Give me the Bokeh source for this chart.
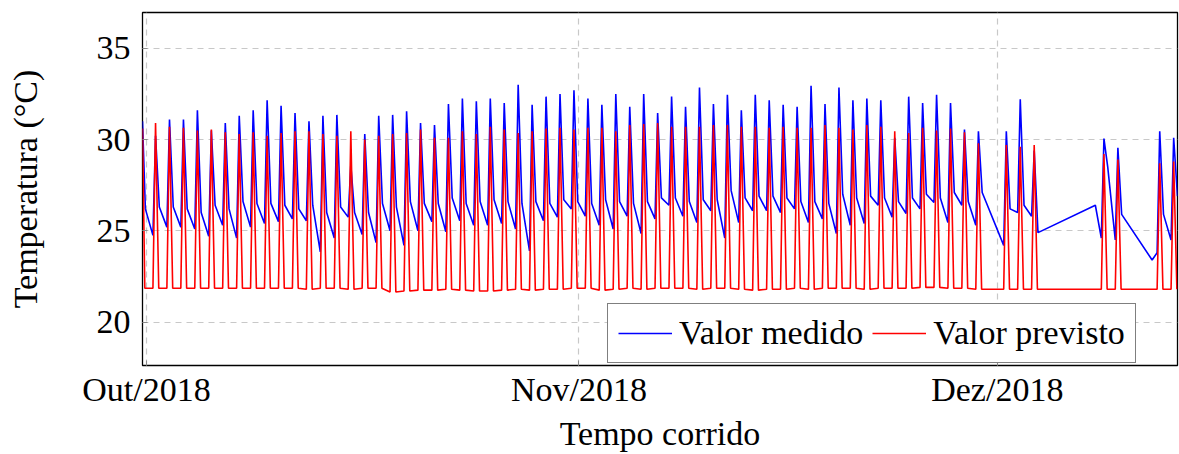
from bokeh.plotting import figure
from bokeh.models import Range1d, FixedTicker, Legend, LegendItem
from bokeh.embed import file_html
from bokeh.resources import INLINE

# ---- data (days counted from 1 Oct 2018, 00:00) ----
days = list(range(-1, 74))
# blue (measured): morning minimum, afternoon peak, late-evening value
blue_min = [None, 24.75, 25.2, 25.2, 25.1, 24.7, 25.3, 24.6, 25.2, 25.4, 25.5,
            25.65, 25.55, 23.85, 24.6, 25.75, 24.8, 24.35, 25.0, 24.2, 25.0,
            25.5, 24.95, 25.55, 25.3, 25.3, 25.4, 25.1, 23.9, 25.55, 25.75,
            26.2, 25.8, 25.3, 25.1, 25.8, 24.85, 25.65, 26.4, 25.8, 25.45,
            26.1, 24.6, 25.45, 26.1, 26.1, 26.0, 26.2, 25.45, 25.65, 24.85,
            25.3, 25.4, 26.4, 25.75, 25.95, 26.2, 26.55, 25.45, 26.4, 25.3,
            None, 24.2, 26.0, 25.8, None, None, None, None, 24.6, 24.5,
            None, None, 23.8, 24.5]
blue_peak = [None, 30.2, 31.1, 31.1, 31.6, 30.5, 30.9, 31.3, 31.6, 32.15, 31.85,
             31.45, 31.0, 31.3, 31.35, 28.6, 30.3, 31.3, 31.35, 31.55, 30.9,
             30.8, 31.95, 32.25, 32.1, 32.25, 32.0, 33.0, 31.9, 32.35, 32.5,
             32.7, 32.25, 31.9, 32.5, 31.8, 32.5, 31.45, 32.35, 31.8, 32.85,
             31.95, 32.45, 31.6, 32.45, 32.15, 31.9, 31.8, 32.95, 31.95, 32.85,
             32.15, 32.25, 32.15, 30.1, 32.35, 32.0, 32.45, 32.0, 30.55, 30.45,
             None, 30.45, 32.2, 29.4, None, None, None, None, 30.05, 29.55,
             None, None, 30.45, 30.1]
blue_late = [26.2, 26.3, 26.3, 26.2, 26.0, 26.4, 26.2, 26.6, 26.5, 26.5, 26.4,
             26.2, 26.4, 26.0, 26.3, 26.0, 26.0, 26.5, 26.3, 26.6, 26.5,
             26.5, 26.8, 26.5, 26.6, 26.7, 26.6, 26.5, 26.6, 26.5, 26.7,
             26.6, 26.5, 26.7, 26.6, 26.5, 26.6, 26.8, 26.8, 26.6, 26.7,
             26.7, 27.2, 26.8, 26.9, 26.9, 26.8, 26.6, 26.6, 26.5, 27.0,
             26.8, 26.9, 26.8, 26.6, 26.8, 27.0, 26.8, 27.1, 26.6, 27.1,
             None, 26.2, 26.4, 24.9, None, None, None, None, 28.5, 25.9,
             None, None, 25.9, 26.9]
# extra measured blue points: first sample and edges of the December gaps
blue_extra_day = [-0.29, 68.03, 72.1]
blue_extra_val = [31.0, 26.4, 23.4]
# red (predicted): night level and afternoon peak
red_low = [21.85, 21.85, 21.85, 21.85, 21.85, 21.85, 21.85, 21.85, 21.85, 21.85, 21.85,
           21.85, 21.8, 21.85, 21.85, 21.8, 21.85, 21.85, 21.65, 21.7, 21.75,
           21.75, 21.8, 21.75, 21.7, 21.7, 21.75, 21.8, 21.75, 21.8, 21.8,
           21.85, 21.85, 21.75, 21.8, 21.85, 21.8, 21.85, 21.85, 21.85, 21.8,
           21.85, 21.85, 21.8, 21.75, 21.8, 21.8, 21.85, 21.8, 21.85, 21.85,
           21.85, 21.8, 21.85, 21.85, 21.85, 21.9, 21.9, 21.85, 21.85, 21.8,
           None, 21.8, 21.8, 21.8, None, None, None, None, 21.8, 21.8,
           None, None, 21.8, 21.8]
red_peak = [None, 30.9, 30.7, 30.65, 30.5, 30.55, 30.4, 30.3, 30.4, 30.2, 30.36,
            30.45, 30.45, 30.3, 30.2, 30.45, 30.0, 30.2, 30.3, 30.36, 30.55,
            30.1, 30.1, 30.45, 30.3, 30.7, 30.55, 30.36, 30.45, 30.6, 30.65,
            30.55, 30.65, 30.65, 30.45, 30.8, 30.85, 30.9, 30.7, 30.7, 30.7,
            30.8, 30.8, 30.7, 30.7, 30.65, 30.7, 30.65, 30.65, 30.8, 30.65,
            30.55, 30.8, 30.7, 30.45, 30.36, 30.65, 30.5, 30.6, 30.4, 29.8,
            None, 29.7, 29.6, 29.7, None, None, None, None, 29.2, 28.9,
            None, None, 28.7, 28.8]
red_extra_day = [-0.29]
red_extra_val = [30.6]
tick_days = [0, 31, 61]
tick_labels = ["Out/2018", "Nov/2018", "Dez/2018"]
y_ticks = [20, 25, 30, 35]

# hours of the day at which the daily values occur
H_MIN, H_PEAK, H_LATE = 11 / 24, 15.5 / 24, 22 / 24
R_UP, R_TOP, R_DOWN = 11 / 24, 15.5 / 24, 21 / 24


def build(day_list, hours, columns, extra_t, extra_v):
    ts, vs = list(extra_t), list(extra_v)
    for i, d in enumerate(day_list):
        for h, col in zip(hours, columns):
            v = col[i]
            if v is not None:
                ts.append(d + h)
                vs.append(v)
    pts = sorted(zip(ts, vs))
    return [t for t, _ in pts], [v for _, v in pts]


bx, by = build(days, (H_MIN, H_PEAK, H_LATE), (blue_min, blue_peak, blue_late),
               blue_extra_day, blue_extra_val)
rx, ry = build(days, (R_UP, R_TOP, R_DOWN), (red_low, red_peak, red_low),
               red_extra_day, red_extra_val)
# the day before the first sample only contributes its late-evening values
bx, by = zip(*[(t, v) for t, v in zip(bx, by) if t >= -0.29])
rx, ry = zip(*[(t, v) for t, v in zip(rx, ry) if t >= -0.29])

FONT = "Liberation Serif"
FS = "34px"

p = figure(width=1179, height=454, output_backend="svg", toolbar_location=None,
           x_range=Range1d(-0.29, 73.92), y_range=Range1d(17.62, 36.96),
           min_border_left=142, min_border_right=2, min_border_top=12,
           min_border_bottom=86)
p.background_fill_color = "white"
p.border_fill_color = "white"
p.outline_line_color = "black"
p.outline_line_width = 1.3

l1 = p.line(list(bx), list(by), line_color="#0000ff", line_width=1.6)
l2 = p.line(list(rx), list(ry), line_color="#ff0000", line_width=1.6)

xax = p.below[0]
yax = p.left[0]

xax.ticker = FixedTicker(ticks=tick_days)
xax.major_label_overrides = {t: s for t, s in zip(tick_days, tick_labels)}
yax.ticker = FixedTicker(ticks=y_ticks)
p.xgrid.ticker = FixedTicker(ticks=tick_days)
p.ygrid.ticker = FixedTicker(ticks=y_ticks)
for g in (p.xgrid, p.ygrid):
    g.grid_line_color = "#c8c8c8"
    g.grid_line_dash = "6 5"
    g.grid_line_width = 1.2

for ax in (xax, yax):
    ax.axis_line_color = None
    ax.major_tick_in = 5
    ax.major_tick_out = 0
    ax.major_tick_line_color = "#8a8a8a"
    ax.minor_tick_line_color = None
    ax.major_label_text_font = FONT
    ax.major_label_text_font_size = FS
    ax.major_label_text_color = "black"
    ax.axis_label_text_font = FONT
    ax.axis_label_text_font_size = FS
    ax.axis_label_text_font_style = "normal"
    ax.axis_label_text_color = "black"

xax.major_label_standoff = 5
yax.major_label_standoff = 12
xax.axis_label_standoff = 4
yax.axis_label_standoff = 50
xax.axis_label = "Tempo corrido"
yax.axis_label = "Temperatura (°C)"

legend = Legend(items=[LegendItem(label="Valor medido", renderers=[l1]),
                       LegendItem(label="Valor previsto", renderers=[l2])],
                orientation="horizontal", location=(465, 2))
legend.label_text_font = FONT
legend.label_text_font_size = FS
legend.label_text_color = "black"
legend.glyph_width = 54
legend.label_standoff = 7
legend.spacing = 9
legend.padding = 10
legend.margin = 0
legend.border_line_color = "black"
legend.border_line_width = 1.2
legend.background_fill_alpha = 1.0
p.add_layout(legend)

open("out.html", "w").write(file_html(p, INLINE))
